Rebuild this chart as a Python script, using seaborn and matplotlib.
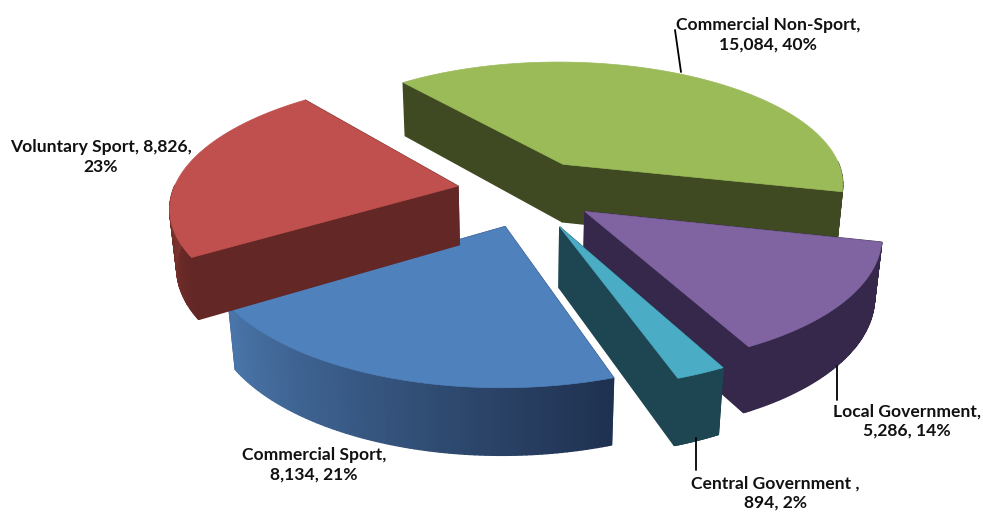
import numpy as np
import matplotlib
matplotlib.use("Agg")
import matplotlib.pyplot as plt
import seaborn as sns

names = ["Commercial Non-Sport", "Local Government", "Central Government", "Commercial Sport", "Voluntary Sport"]
values = [15084, 5286, 894, 8134, 8826]
percents = [40, 14, 2, 21, 23]

top_colors = ["#9bbb59", "#8064a2", "#4bacc6", "#4f81bd", "#c0504d"]
cut_colors = ["#404a22", "#35284a", "#1e4652", "#2e4a72", "#632725"]
# outer wall goes from first colour (right side) to second (left side)
wall_colors = [("#404a22", "#404a22"), ("#35284a", "#35284a"), ("#1e4652", "#1e4652"),
               ("#1f3150", "#4a76aa"), ("#632725", "#a8483f")]
explodes = [0.26, 0.26, 0.30, 0.29, 0.24]
x_nudge = [0, 0, 0, 0.03, 0]  # blue slice sits a bit further right in the original

sns.set_theme(style="white")
plt.rcParams["font.family"] = ["Lato", "DejaVu Sans"]

# pie geometry, in pixels of the 983x514 picture
cx, cy = 525, 191
radius, squash, depth = 285, 125, 60
persp, persp_z = 0.15, 0.02
start_angle = 231


def project(u, v, z):
    p = 1 / (1 - persp * v + persp_z * z)
    return cx + radius * u * p, cy + (squash * v + depth * z) * p


fig = plt.figure(figsize=(9.83, 5.14), dpi=100)
ax = fig.add_axes([0, 0, 1, 1])
ax.set_xlim(0, 983)
ax.set_ylim(514, 0)
ax.axis("off")

# angles follow the values, clockwise on screen
sweeps = np.array(values) / sum(values) * 360
starts = start_angle + np.concatenate([[0], np.cumsum(sweeps)[:-1]])


def draw_slice(i):
    t0, t1 = np.radians(starts[i]), np.radians(starts[i] + sweeps[i])
    mid = (t0 + t1) / 2
    ou, ov = explodes[i] * np.cos(mid) + x_nudge[i], explodes[i] * np.sin(mid)
    th = np.linspace(t0, t1, 90)
    us, vs = ou + np.cos(th), ov + np.sin(th)

    # cut faces
    for t in (t0, t1):
        eu, ev = ou + np.cos(t), ov + np.sin(t)
        pts = [project(ou, ov, 0), project(eu, ev, 0), project(eu, ev, 1), project(ou, ov, 1)]
        ax.fill(*zip(*pts), color=cut_colors[i], lw=1.0, zorder=i * 3 + 1)

    # outer wall, only the part facing the viewer
    shades = sns.blend_palette(wall_colors[i], len(th))
    for j in range(len(th) - 1):
        if np.sin(th[j]) < 0 and np.sin(th[j + 1]) < 0:
            continue
        pts = [project(us[j], vs[j], 0), project(us[j + 1], vs[j + 1], 0),
               project(us[j + 1], vs[j + 1], 1), project(us[j], vs[j], 1)]
        ax.fill(*zip(*pts), color=shades[j], lw=1.0, zorder=i * 3 + 2)

    # top face
    top = [project(ou, ov, 0)] + [project(a, b, 0) for a, b in zip(us, vs)]
    ax.fill(*zip(*top), color=top_colors[i], lw=0.5, zorder=i * 3 + 3)


# back to front
for i in [0, 4, 1, 2, 3]:
    draw_slice(i)

labels = [
    f"{names[0]},\n{values[0]:,}, {percents[0]}%",
    f"{names[1]},\n{values[1]:,}, {percents[1]}%",
    f"{names[2]} ,\n{values[2]:,}, {percents[2]}%",
    f"{names[3]},\n{values[3]:,}, {percents[3]}%",
    f"{names[4]}, {values[4]:,},\n{percents[4]}%",
]
label_pos = [(768, 35), (907, 421), (775, 493), (314, 465), (101, 157)]
for s, (x, y) in zip(labels, label_pos):
    ax.text(x, y, s, ha="center", va="center", fontsize=12.6, fontweight="bold",
            color="#111111", linespacing=1.3, zorder=30)

leaders = [((675, 30), (681, 72)), ((837, 366), (837, 400)), ((696, 438), (696, 470))]
for (x0, y0), (x1, y1) in leaders:
    ax.plot([x0, x1], [y0, y1], color="black", lw=1.3, zorder=30)

fig.savefig("out.png", dpi=100)
